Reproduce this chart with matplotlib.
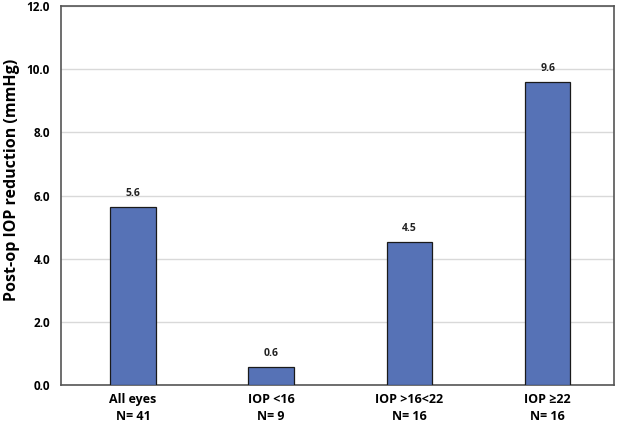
import matplotlib
matplotlib.use("Agg")
import matplotlib.pyplot as plt
import numpy as np

categories = ["All eyes\nN= 41", "IOP <16\nN= 9", "IOP >16<22\nN= 16", "IOP \u226522\nN= 16"]
values = [5.64, 0.58, 4.52, 9.6]
value_labels = ["5.6", "0.6", "4.5", "9.6"]

plt.rcParams['font.family'] = ['Open Sans', 'DejaVu Sans']
plt.rcParams['font.weight'] = 'bold'

fig = plt.figure(figsize=(6.34, 4.24), dpi=100)
ax = fig.add_axes([0.0962, 0.092, 0.8723, 0.8938])

x = np.arange(len(categories))
bars = ax.bar(x + 0.02, values, width=0.33, color='#5672b6', edgecolor='#1a1a1a', linewidth=0.9, zorder=3)
for xi, v, lab in zip(x + 0.02, values, value_labels):
    ax.text(xi, v + 0.25, lab, ha='center', va='bottom', fontsize=7.5, fontweight='bold', color='#222222')

ax.set_xlim(-0.5, 3.5)
ax.set_ylim(0, 12)
ax.set_yticks(np.arange(0, 12.1, 2))
ax.set_yticklabels([f"{t:.1f}" for t in np.arange(0, 12.1, 2)])
ax.set_xticks(x + 0.02)
ax.set_xticklabels(categories, fontsize=9, fontweight='bold', linespacing=1.4)
ax.tick_params(axis='y', labelsize=8.5, length=0, pad=8)
ax.tick_params(axis='x', length=0, pad=6)
ax.yaxis.grid(True, color='#d9d9d9', linewidth=1, zorder=0)
for s in ax.spines.values():
    s.set_color('#555555')
    s.set_linewidth(1.2)
ax.set_ylabel("Post-op IOP reduction (mmHg)", fontsize=11.5, fontweight='bold', labelpad=6)
ax.yaxis.set_label_coords(-0.075, 0.54)

plt.savefig("out.png", dpi=100)
